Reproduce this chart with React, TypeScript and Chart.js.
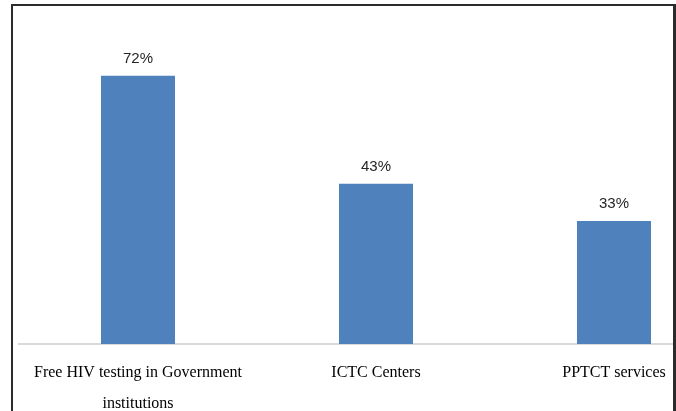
import React, { useEffect, useRef } from "react";
import { Chart, registerables } from "chart.js";

Chart.register(...registerables);

const categories: (string | string[])[] = [
  ["Free HIV testing in Government", "institutions"],
  "ICTC Centers",
  "PPTCT services",
];
const values = [72, 43, 33];
const valueLabels = ["72%", "43%", "33%"];

const barLabelPlugin = {
  id: "barLabels",
  afterDatasetsDraw(chart: any) {
    const ctx = chart.ctx;
    const meta = chart.getDatasetMeta(0);
    ctx.save();
    ctx.font = "15px 'Liberation Sans', Arial, sans-serif";
    ctx.fillStyle = "#262626";
    ctx.textAlign = "center";
    ctx.textBaseline = "alphabetic";
    meta.data.forEach((bar: any, i: number) => {
      ctx.fillText(valueLabels[i], bar.x, bar.y - 13);
    });
    ctx.restore();
  },
};

export default function App() {
  const ref = useRef<HTMLCanvasElement>(null);
  useEffect(() => {
    if (!ref.current) return;
    const chart = new Chart(ref.current, {
      type: "bar",
      data: {
        labels: categories,
        datasets: [
          {
            data: values,
            backgroundColor: "#4F81BD",
            borderWidth: 0,
            categoryPercentage: 1,
            barPercentage: 0.311,
          },
        ],
      },
      options: {
        animation: false,
        responsive: false,
        maintainAspectRatio: false,
        layout: { padding: { top: 46, left: 19, right: 27, bottom: 0 } },
        plugins: { legend: { display: false }, tooltip: { enabled: false } },
        scales: {
          x: {
            afterFit: (s: any) => {
              s.height = 67;
            },
            grid: { display: false, drawTicks: false },
            border: { display: true, color: "#d9d9d9", width: 2 },
            ticks: {
              padding: 14,
              color: "#000",
              maxRotation: 0,
              autoSkip: false,
              font: { family: "'Liberation Serif', 'Times New Roman', serif", size: 16, lineHeight: 1.9 },
            },
          },
          y: {
            display: false,
            min: 0,
            max: 80,
          },
        },
      },
      plugins: [barLabelPlugin],
    });
    return () => chart.destroy();
  }, []);
  return (
    <div
      style={{
        position: "fixed",
        left: 0,
        top: 0,
        width: 676,
        height: 411,
        overflow: "hidden",
        background: "#fff",
      }}
    >
      <canvas
        ref={ref}
        width={760}
        height={411}
        style={{ position: "absolute", left: 0, top: 0, width: 760, height: 411 }}
      />
      <div
        style={{
          position: "absolute",
          left: 11,
          top: 4,
          width: 660,
          height: 430,
          borderTop: "2px solid #2b2b2b",
          borderLeft: "2px solid #2b2b2b",
          borderRight: "3px solid #2b2b2b",
          pointerEvents: "none",
        }}
      />
    </div>
  );
}
